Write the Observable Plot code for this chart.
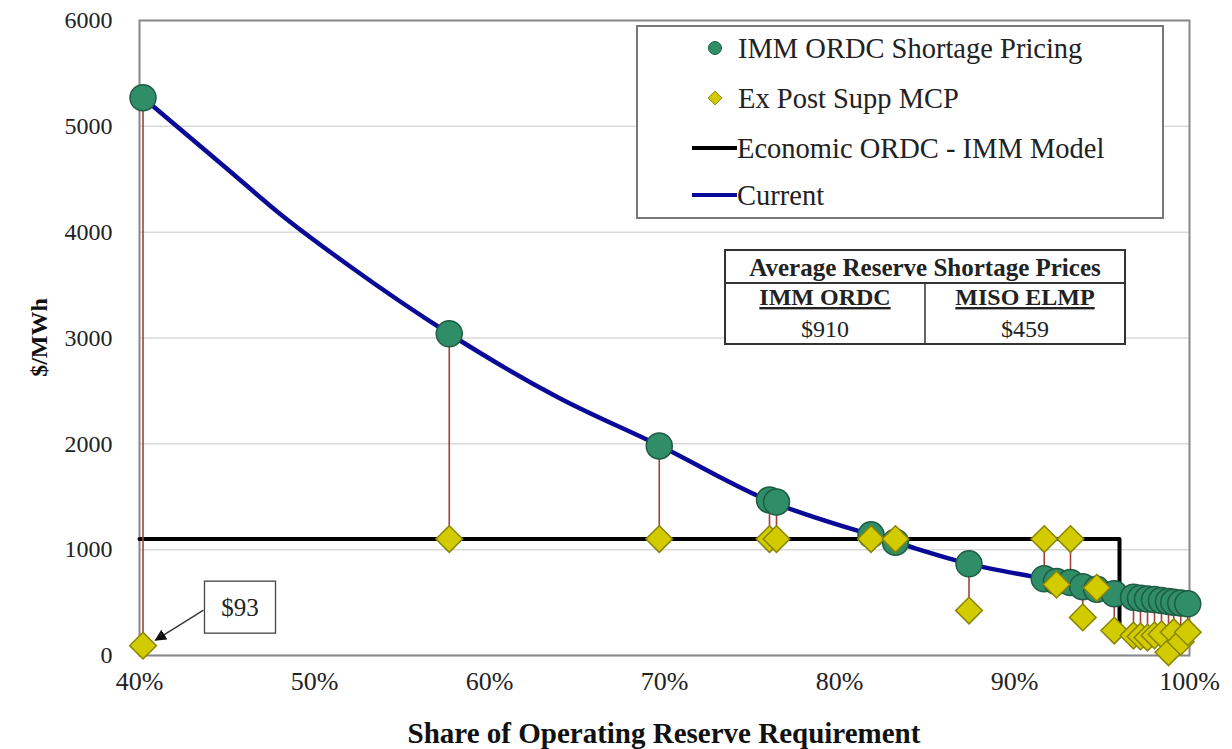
<!DOCTYPE html>
<html>
<head>
<meta charset="utf-8">
<script src="https://cdn.jsdelivr.net/npm/d3@7"></script>
<script src="https://cdn.jsdelivr.net/npm/@observablehq/plot@0.6"></script>
<style>
  html, body { margin: 0; padding: 0; background: #fff; }
  #chart { position: relative; width: 1232px; height: 749px; }
  #chart svg { display: block; }
</style>
</head>
<body>
<div id="chart"></div>
<script>
// ---- Data ----
// Share of operating reserve requirement for each shortage interval
const shareX = [0.402, 0.577, 0.697, 0.760, 0.764, 0.818, 0.832, 0.874, 0.917, 0.924, 0.932, 0.939, 0.947, 0.957, 0.968, 0.972, 0.976, 0.980, 0.984, 0.988, 0.991, 0.995, 0.999];
// IMM ORDC Shortage Pricing ($/MWh)
const immPrice = [5270, 3040, 1980, 1470, 1450, 1140, 1070, 866, 725, 700, 690, 650, 625, 583, 551, 540, 533, 528, 520, 510, 504, 495, 488];
// Ex Post Supp MCP ($/MWh)
const expostPrice = [93, 1100, 1100, 1100, 1100, 1100, 1100, 425, 1100, 670, 1100, 360, 640, 236, 189, 180, 170, 190, 200, 30, 220, 130, 220];
// "Current" curve
const currentX = [0.402, 0.45, 0.48, 0.52, 0.577, 0.639, 0.697, 0.76, 0.818, 0.832, 0.874, 0.917, 0.959, 1.0];
const currentY = [5270, 4600, 4177, 3680, 3040, 2440, 1984, 1460, 1140, 1070, 866, 725, 583, 480];
// Economic ORDC - IMM Model (step)
const econX = [0.40, 0.96, 0.96];
const econY = [1100, 1100, 200];
// Axis ticks
const xTicks = [0.4, 0.5, 0.6, 0.7, 0.8, 0.9, 1.0];
const yTicks = [0, 1000, 2000, 3000, 4000, 5000, 6000];
// Labels
const xTitle = "Share of Operating Reserve Requirement";
const yTitle = "$/MWh";
const seriesNames = ["IMM ORDC Shortage Pricing", "Ex Post Supp MCP", "Economic ORDC - IMM Model", "Current"];
const tableTitle = "Average Reserve Shortage Prices";
const tableHeads = ["IMM ORDC", "MISO ELMP"];
const tableValues = [910, 459];

// ---- Tables for Plot ----
const points = shareX.map((x, i) => ({x, imm: immPrice[i], expost: expostPrice[i]}));
const current = currentX.map((x, i) => ({x, y: currentY[i]}));
const econ = econX.map((x, i) => ({x, y: econY[i]}));

const C = {
  green: "#2f8e68", greenStroke: "#1e5c43",
  yellow: "#d2cb00", yellowStroke: "#8a8500",
  blue: "#0a0a98", black: "#000", stem: "#a2413b"
};

const chart = Plot.plot({
  width: 1232, height: 749,
  marginLeft: 139, marginRight: 43, marginTop: 20, marginBottom: 94,
  style: {fontFamily: "'Liberation Serif', 'Times New Roman', serif", fontSize: "26px", color: "#222", background: "#fff"},
  x: {domain: [0.4, 1.0], ticks: xTicks, tickFormat: d => Math.round(d * 100) + "%", tickSize: 0, tickPadding: 16, label: null},
  y: {domain: [0, 6000], ticks: yTicks, tickFormat: d => String(d), tickSize: 0, tickPadding: 27, label: null},
  marks: [
    Plot.gridY(yTicks, {stroke: "#d9d9d9", strokeOpacity: 1, strokeWidth: 1.5}),
    Plot.frame({stroke: "#888", strokeWidth: 2}),
    Plot.line(econ, {x: "x", y: "y", stroke: C.black, strokeWidth: 4}),
    Plot.link(points, {x1: "x", x2: "x", y1: "imm", y2: "expost", stroke: C.stem, strokeWidth: 1.6}),
    Plot.line(current, {x: "x", y: "y", stroke: C.blue, strokeWidth: 4.5, curve: "monotone-x"}),
    Plot.dot(points, {x: "x", y: "imm", r: 13, fill: C.green, stroke: C.greenStroke, strokeWidth: 1.5}),
    Plot.dot(points, {x: "x", y: "expost", symbol: "diamond2", r: 12, fill: C.yellow, stroke: C.yellowStroke, strokeWidth: 1.5})
  ]
});
document.getElementById("chart").appendChild(chart);

// ---- Overlays drawn with d3 in the same SVG ----
const svg = d3.select(chart);
svg.selectAll('g[aria-label="y-axis tick label"]').attr("font-size", 24);
const serif = "'Liberation Serif', 'Times New Roman', serif";
const sx = chart.scale("x"), sy = chart.scale("y");
const fx = d3.scaleLinear(sx.domain, sx.range), fy = d3.scaleLinear(sy.domain, sy.range);

// Axis titles
svg.append("text").attr("x", (sx.range[0] + sx.range[1]) / 2).attr("y", 743)
  .attr("text-anchor", "middle").attr("font-family", serif).attr("font-size", 29).attr("font-weight", "bold").attr("fill", "#111")
  .text(xTitle);
svg.append("text").attr("transform", `translate(47,${(sy.range[0] + sy.range[1]) / 2}) rotate(-90)`)
  .attr("text-anchor", "middle").attr("font-family", serif).attr("font-size", 24).attr("font-weight", "bold").attr("fill", "#111")
  .text(yTitle);

// Legend
const lg = svg.append("g");
lg.append("rect").attr("x", 637).attr("y", 26).attr("width", 526).attr("height", 192)
  .attr("fill", "#fff").attr("stroke", "#777").attr("stroke-width", 2);
const rowY = [48, 98, 148, 195];
lg.append("circle").attr("cx", 715).attr("cy", rowY[0]).attr("r", 6.5).attr("fill", C.green).attr("stroke", C.greenStroke);
lg.append("path").attr("d", d3.symbol(d3.symbolDiamond2, 120)()).attr("transform", `translate(715,${rowY[1]})`)
  .attr("fill", C.yellow).attr("stroke", C.yellowStroke);
lg.append("line").attr("x1", 692).attr("x2", 737).attr("y1", rowY[2]).attr("y2", rowY[2]).attr("stroke", C.black).attr("stroke-width", 4);
lg.append("line").attr("x1", 692).attr("x2", 737).attr("y1", rowY[3]).attr("y2", rowY[3]).attr("stroke", C.blue).attr("stroke-width", 4);
seriesNames.forEach((name, i) => {
  lg.append("text").attr("x", i < 2 ? 738 : 737).attr("y", rowY[i]).attr("dy", "0.35em").attr("text-anchor", "start")
    .attr("font-family", serif).attr("font-size", 28.5).attr("fill", "#222").text(name);
});

// Average price table
const tb = svg.append("g");
tb.append("rect").attr("x", 725).attr("y", 250).attr("width", 400).attr("height", 94)
  .attr("fill", "#fff").attr("stroke", "#333").attr("stroke-width", 2);
tb.append("line").attr("x1", 725).attr("x2", 1125).attr("y1", 283).attr("y2", 283).attr("stroke", "#333").attr("stroke-width", 2);
tb.append("line").attr("x1", 925).attr("x2", 925).attr("y1", 283).attr("y2", 344).attr("stroke", "#333").attr("stroke-width", 1.5);
tb.append("text").attr("x", 925).attr("y", 276).attr("text-anchor", "middle").attr("font-family", serif)
  .attr("font-size", 25).attr("font-weight", "bold").attr("fill", "#222").text(tableTitle);
[825, 1025].forEach((cx, i) => {
  tb.append("text").attr("x", cx).attr("y", 305).attr("text-anchor", "middle").attr("font-family", serif)
    .attr("font-size", 24).attr("font-weight", "bold").attr("fill", "#222").attr("text-decoration", "underline").text(tableHeads[i]);
  tb.append("text").attr("x", cx).attr("y", 337).attr("text-anchor", "middle").attr("font-family", serif)
    .attr("font-size", 24).attr("fill", "#222").text("$" + tableValues[i]);
});

// "$93" annotation on the first Ex Post point
const px = fx(points[0].x), py = fy(points[0].expost);
const defs = svg.append("defs");
defs.append("marker").attr("id", "ah").attr("viewBox", "0 0 10 10").attr("refX", 9).attr("refY", 5)
  .attr("markerWidth", 9).attr("markerHeight", 9).attr("orient", "auto")
  .append("path").attr("d", "M0,0L10,5L0,10z").attr("fill", "#111");
const an = svg.append("g");
an.append("line").attr("x1", px + 61).attr("y1", py - 35).attr("x2", px + 13).attr("y2", py - 5)
  .attr("stroke", "#333").attr("stroke-width", 1.3).attr("marker-end", "url(#ah)");
an.append("rect").attr("x", px + 62).attr("y", py - 64).attr("width", 71).attr("height", 52)
  .attr("fill", "#fff").attr("stroke", "#444").attr("stroke-width", 1.3);
an.append("text").attr("x", px + 97.5).attr("y", py - 38).attr("dy", "0.35em").attr("text-anchor", "middle")
  .attr("font-family", serif).attr("font-size", 25).attr("fill", "#222").text("$" + points[0].expost);
</script>
</body>
</html>
